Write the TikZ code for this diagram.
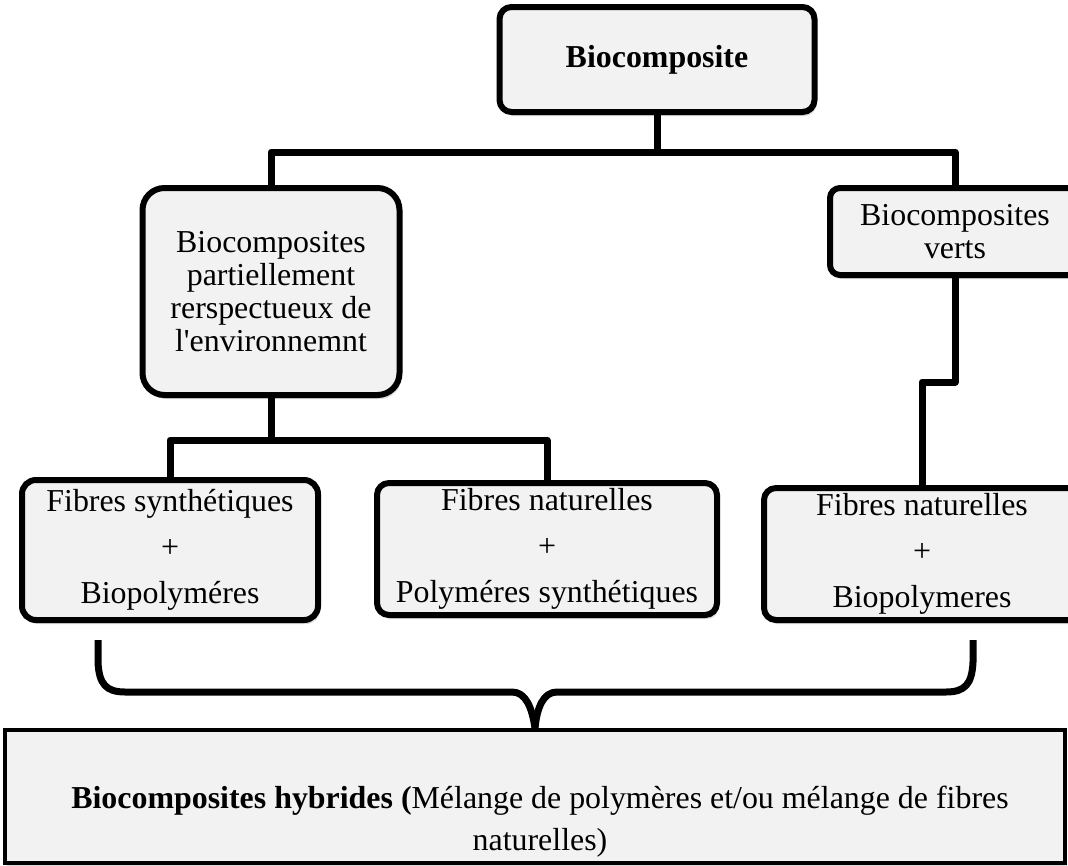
\documentclass[tikz,border=0pt]{standalone}
\usepackage{fontspec}
\setmainfont{Liberation Serif}
\usetikzlibrary{shadows}
\definecolor{boxfill}{HTML}{F2F2F2}
\begin{document}
\begin{tikzpicture}[x=1pt,y=-1pt,
  box/.style={draw=black, line width=6pt, fill=boxfill, rounded corners=12pt,
    inner sep=0pt, align=center, font=\fontsize{31.9}{33}\selectfont,
    drop shadow={shadow xshift=2pt, shadow yshift=-4pt, opacity=0.3}},
  wide/.style={font=\fontsize{31.9}{46}\selectfont},
  conn/.style={line width=7pt, line join=round, line cap=butt},
]
\useasboundingbox (0,0) rectangle (1068,865);

% boxes
\node[box, minimum width=315pt, minimum height=105pt,
      font=\bfseries\fontsize{31.9}{33}\selectfont] (top) at (657,59.5) {Biocomposite};
\node[box, rounded corners=22pt, minimum width=257pt, minimum height=207pt] (mid) at (271,291.5)
  {Biocomposites\\partiellement\\rerspectueux de\\l\textquotesingle environnemnt};
\node[box, rounded corners=10pt, minimum width=250pt, minimum height=87pt] (verts) at (955,231.5)
  {Biocomposites\\verts};
\node[box, wide, rounded corners=14pt, minimum width=296pt, minimum height=140pt] (fs) at (170,550)
  {Fibres synthétiques\\+\\Biopolyméres};
\node[box, wide, minimum width=340pt, minimum height=132pt] (fn) at (547,549)
  {Fibres naturelles\\+\\Polyméres synthétiques};
\node[box, wide, minimum width=316pt, minimum height=132pt] (fb) at (922,554)
  {Fibres naturelles\\+\\Biopolymeres};

\node[draw=black, line width=4pt, fill=boxfill, minimum width=1060pt, minimum height=133pt,
      inner sep=0pt, drop shadow={shadow xshift=2pt, shadow yshift=-4pt, opacity=0.3}]
      (hyb) at (535,796.5) {};
\node[font=\fontsize{31.9}{42}\selectfont, align=center, inner sep=0pt] (hybtxt) at (540,822)
  {\textbf{Biocomposites hybrides (}Mélange de polymères et/ou mélange de fibres\\naturelles)};

% connectors
\coordinate (bus1) at (0,152);
\coordinate (bus2) at (0,440);
\coordinate (jog) at (0,382);
\draw[conn] (top.south) -- (top.south |- bus1);
\draw[conn] (mid.north) |- (top.south |- bus1) -| (verts.north);
\draw[conn] (mid.south) -- (mid.south |- bus2);
\draw[conn] (fs.north) |- (mid.south |- bus2) -| (fn.north);
\draw[conn] (verts.south) -- (verts.south |- jog) -| (fb.north);

% brace
\coordinate (bl) at (98,640);
\coordinate (br) at (973,640);
\draw[conn] (bl) -- (98,662) .. controls (99,684) and (106,692) .. (125,692)
  -- (512,692) .. controls (526,692) and (532,708) .. (hyb.north);
\draw[conn] (hyb.north) .. controls (537,708) and (543,692) .. (557,692)
  -- (946,692) .. controls (965,692) and (972,684) .. (973,662) -- (br);
\end{tikzpicture}
\end{document}
